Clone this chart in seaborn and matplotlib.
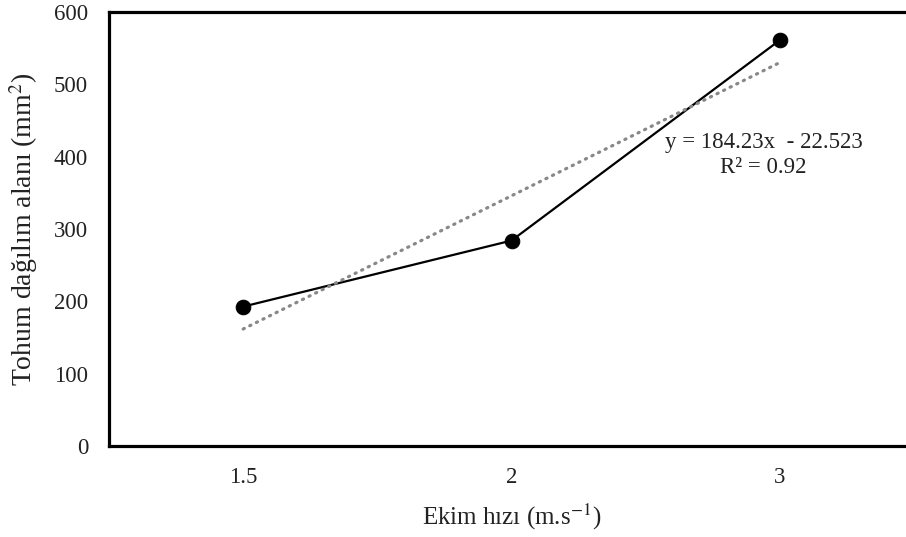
import numpy as np
import matplotlib
matplotlib.use("Agg")
import matplotlib.pyplot as plt
import seaborn as sns
import pandas as pd

categories = ["1.5", "2", "3"]
positions = [1, 2, 3]
values = [192.7, 284.0, 561.1]
y_ticks = [0, 100, 200, 300, 400, 500, 600]
eq_text = "y = 184.23x  - 22.523"
r2_text = "R² = 0.92"

sns.set_theme(style="white")
plt.rcParams['font.family'] = ['Liberation Serif', 'DejaVu Serif']
plt.rcParams['mathtext.fontset'] = 'stix'

fig = plt.figure(figsize=(9.06, 5.37), dpi=100)
ax = fig.add_axes([109/906, (537-446)/537, (914-109)/906, (446-12)/537])

df = pd.DataFrame({"x": positions, "y": values})
sns.lineplot(data=df, x="x", y="y", ax=ax, color="black", linewidth=1.6,
             marker="o", markersize=10.5, markeredgecolor="black",
             markerfacecolor="black")

coef = np.polyfit(positions, values, 1)
tx = np.array([positions[0], positions[-1]])
ax.plot(tx, np.polyval(coef, tx), color="#888888", linewidth=2.3,
        linestyle=(0, (0.4, 1.9)), dash_capstyle="round", zorder=4)

ax.set_xlim(0.5, 3.5)
ax.set_ylim(0, 600)
ax.set_xticks(positions)
ax.set_xticklabels(categories)
ax.set_yticks(y_ticks)
ax.tick_params(axis="both", length=0, labelsize=16.5, colors="#222222")
ax.tick_params(axis="y", pad=15)
ax.tick_params(axis="x", pad=15)

for s in ["left", "top", "bottom"]:
    ax.spines[s].set_visible(True)
    ax.spines[s].set_color("black")
    ax.spines[s].set_linewidth(2.3)
ax.spines["right"].set_visible(False)

ax.set_xlabel("Ekim hızı (m.s$^{\\mathrm{-1}}$)", fontsize=18, labelpad=10, color="#222222")
ax.set_ylabel("Tohum dağılım alanı (mm$^{2}$)", fontsize=20, labelpad=10, color="#222222")

ax.text(2.94, 420, eq_text, ha="center", va="center", fontsize=16.5, color="#222222")
ax.text(2.94, 385, r2_text, ha="center", va="center", fontsize=16.5, color="#222222")

fig.savefig("out.png", dpi=100)
